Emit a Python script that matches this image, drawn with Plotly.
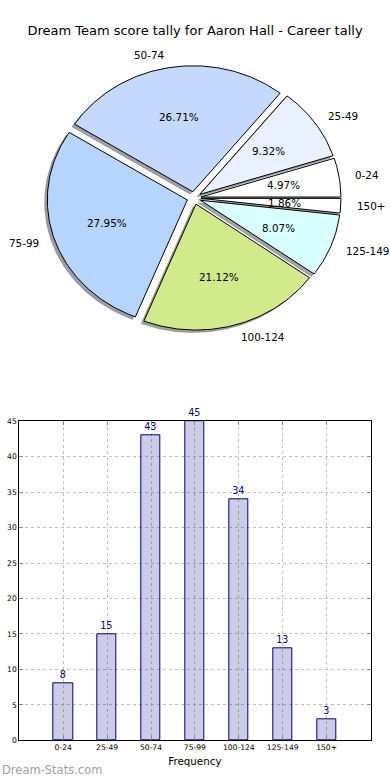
import numpy as np
import plotly.graph_objects as go

# ---------------- data ----------------
categories = ["0-24", "25-49", "50-74", "75-99", "100-124", "125-149", "150+"]
counts = [8, 15, 43, 45, 34, 13, 3]
y_ticks = [0, 5, 10, 15, 20, 25, 30, 35, 40, 45]
title_text = "Dream Team score tally for Aaron Hall - Career tally"
x_title = "Frequency"
watermark = "Dream-Stats.com"

# ---------------- style ----------------
slice_colors = ["#ffffff", "#e9f0ff", "#c5d9ff", "#b5d5ff", "#d1ea8b", "#d9ffff", "#ffffff"]
FONT = "DejaVu Sans"
W, H = 390, 780
PIE_CX, PIE_CY = 194, 198      # px, pie centre
PIE_RX, PIE_RY = 140, 126      # px, pie radii (non-equal axes)
PIE_TOP_H = 390                # px height of the pie axes
EXPLODE = 0.05
SHADOW = 0.02
LABEL_D = 1.1
PCT_D = 0.6


def hex_rgb(h):
    h = h.lstrip("#")
    return [int(h[i:i + 2], 16) for i in (0, 2, 4)]


fig = go.Figure()

total = float(sum(counts))
fracs = [c / total for c in counts]
starts = np.concatenate([[0.0], np.cumsum(fracs)[:-1]]) * 360.0
ends = np.cumsum(fracs) * 360.0

wedges = []
for i, cat in enumerate(categories):
    t1, t2 = starts[i], ends[i]
    mid = np.deg2rad((t1 + t2) / 2.0)
    ox, oy = EXPLODE * np.cos(mid), EXPLODE * np.sin(mid)
    n = max(3, int(abs(t2 - t1)) + 2)
    th = np.deg2rad(np.linspace(t1, t2, n))
    xs = np.concatenate([[ox], ox + np.cos(th), [ox]])
    ys = np.concatenate([[oy], oy + np.sin(th), [oy]])
    wedges.append((xs, ys, mid, ox, oy))

# shadows first
for i, (xs, ys, mid, ox, oy) in enumerate(wedges):
    r, g, b = hex_rgb(slice_colors[i])
    sc = "rgba(%d,%d,%d,0.5)" % (int(0.3 * r), int(0.3 * g), int(0.3 * b))
    fig.add_trace(go.Scatter(x=xs - SHADOW, y=ys - SHADOW, mode="lines", fill="toself",
                             fillcolor=sc, line=dict(color=sc, width=0.5),
                             hoverinfo="skip", showlegend=False, xaxis="x", yaxis="y"))

for i, (xs, ys, mid, ox, oy) in enumerate(wedges):
    fig.add_trace(go.Scatter(x=xs, y=ys, mode="lines", fill="toself",
                             fillcolor=slice_colors[i], line=dict(color="black", width=1),
                             name=categories[i], hoverinfo="name", showlegend=False,
                             xaxis="x", yaxis="y"))

annotations = []
for i, (xs, ys, mid, ox, oy) in enumerate(wedges):
    lx = ox + LABEL_D * np.cos(mid)
    ly = oy + LABEL_D * np.sin(mid)
    annotations.append(dict(x=lx, y=ly, xref="x", yref="y", text=categories[i],
                            showarrow=False, xanchor="left" if lx > 0 else "right",
                            yanchor="middle", font=dict(family=FONT, size=10.4, color="black")))
    px_ = ox + PCT_D * np.cos(mid)
    py_ = oy + PCT_D * np.sin(mid)
    annotations.append(dict(x=px_, y=py_, xref="x", yref="y",
                            text="%.2f%%" % (100 * fracs[i]),
                            showarrow=False, xanchor="center", yanchor="middle",
                            font=dict(family=FONT, size=10.4, color="black")))

# ---------------- bar chart ----------------
fig.add_trace(go.Bar(x=categories, y=counts, width=0.44,
                     marker=dict(color="rgba(0,0,128,0.2)", line=dict(color="#000080", width=1)),
                     text=[str(c) for c in counts], textposition="outside",
                     textfont=dict(family=FONT, size=9.6, color="#000080"),
                     constraintext="none", cliponaxis=False,
                     showlegend=False, xaxis="x2", yaxis="y2"))

annotations.append(dict(x=0.0, y=1 - 770 / H, xref="paper", yref="paper", text=watermark,
                        showarrow=False, xanchor="left", yanchor="middle",
                        font=dict(family=FONT, size=11.5, color="#a0a0a0")))

bx0, bx1 = 19.3, 370.5
by0, by1 = 421.3, 740.3

fig.update_layout(
    width=W, height=H, autosize=False,
    margin=dict(l=0, r=0, t=0, b=0, pad=0),
    paper_bgcolor="white", plot_bgcolor="white",
    title=dict(text=title_text, x=0.5, xanchor="center", y=1 - 30 / H, yanchor="middle",
               font=dict(family=FONT, size=13, color="black")),
    xaxis=dict(domain=[0, 1], range=[-PIE_CX / PIE_RX, (W - PIE_CX) / PIE_RX],
               visible=False, fixedrange=True),
    yaxis=dict(domain=[1 - PIE_TOP_H / H, 1],
               range=[-(PIE_TOP_H - PIE_CY) / PIE_RY, PIE_CY / PIE_RY],
               visible=False, fixedrange=True),
    xaxis2=dict(domain=[bx0 / W, bx1 / W], anchor="y2", type="category",
                range=[-1, len(categories)], showline=True, linecolor="black", linewidth=1,
                mirror="allticks", ticks="inside", ticklen=4, tickcolor="#888",
                showgrid=True, gridcolor="#c0c0c0", griddash="dot", gridwidth=1,
                tickfont=dict(family=FONT, size=7.6, color="black"),
                title=dict(text=x_title, standoff=6,
                           font=dict(family=FONT, size=10.3, color="black")),
                zeroline=False, automargin=False),
    yaxis2=dict(domain=[1 - by1 / H, 1 - by0 / H], anchor="x2", range=[0, 45],
                tickvals=y_ticks, showline=True, linecolor="black", linewidth=1,
                mirror="allticks", ticks="inside", ticklen=4, tickcolor="#888",
                showgrid=True, gridcolor="#c0c0c0", griddash="dot", gridwidth=1,
                tickfont=dict(family=FONT, size=7.6, color="black"),
                zeroline=False, automargin=False),
    annotations=annotations,
    bargap=0,
)

fig.write_html(
    "out.html",
    config={"displayModeBar": False, "responsive": False},
    post_script=("document.documentElement.style.margin='0';"
                 "document.body.style.margin='0';document.body.style.padding='0';"
                 "document.documentElement.style.overflow='hidden';"
                 "document.body.style.overflow='hidden';"),
)
